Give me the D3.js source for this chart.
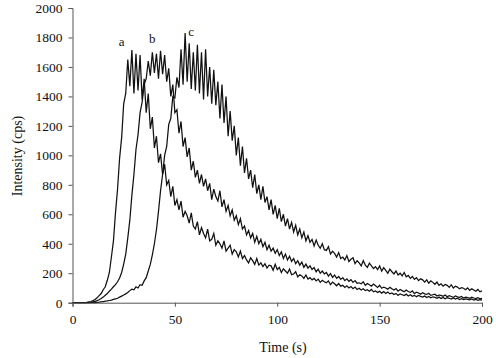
<!DOCTYPE html>
<html><head><meta charset="utf-8">
<script src="https://cdn.jsdelivr.net/npm/d3@7/dist/d3.min.js"></script>
<style>body{margin:0;background:#fff}svg{display:block}</style>
</head><body>
<svg id="chart" width="500" height="358"></svg>
<script>
// Time axis: one reading per second, 0..200 s
const timeStart = 0, timeStep = 1;
const xTicks = [0, 50, 100, 150, 200];
const yTicks = [0, 200, 400, 600, 800, 1000, 1200, 1400, 1600, 1800, 2000];
const curveLabels = ["a", "b", "c"];

const seriesA = [
0,0,0,0,0,0,0,2,
5,8,14,22,33,48,62,88,
108,152,205,310,420,610,770,980,
1120,1350,1420,1650,
1470,1715,1420,1690,1440,1680,1380,1520,
1290,1420,1180,1260,1050,1130,950,1010,
870,940,800,830,720,790,660,700,
630,690,580,620,590,540,610,520,
500,550,460,510,470,440,500,420,
430,470,390,420,400,370,420,350,
370,390,330,360,345,310,350,300,
320,290,270,305,285,260,300,255,
270,245,265,235,255,250,220,260,
225,240,205,230,215,200,228,190,
195,210,175,190,182,165,188,160,
170,155,165,148,160,138,152,142,
135,148,122,140,128,115,130,112,
118,104,115,100,110,95,106,90,
98,86,95,82,88,78,90,74,
80,70,78,65,75,62,72,60,
66,56,63,50,60,54,48,58,
46,54,44,50,41,49,43,38,
45,35,42,33,40,36,30,38,
29,36,27,34,30,25,32,24,
30,22,28,21,26,23,19,25,
18,23,16,21,17];

const seriesB = [
0,0,0,0,0,0,0,0,
0,2,5,9,14,20,28,38,
50,62,78,92,108,122,142,168,
205,262,330,440,
560,730,870,1040,1140,1290,1360,1480,
1520,1640,1540,1700,1560,1690,1520,1710,
1550,1680,1500,1590,1400,1480,1290,1310,
1150,1230,1060,1120,990,1050,900,960,
850,900,810,870,790,840,760,810,
700,770,720,690,760,650,700,620,
660,590,630,560,590,530,570,500,
520,460,490,440,470,410,450,400,
430,380,410,360,390,350,370,335,
360,320,345,300,330,290,315,280,
300,265,285,255,275,240,262,235,
250,225,238,210,228,200,215,195,
205,180,198,172,188,165,178,158,
170,150,162,145,156,138,150,132,
135,128,142,118,130,122,112,126,
115,104,118,98,106,100,92,104,
94,86,96,78,90,82,74,86,
76,70,80,62,72,66,58,68,
60,56,64,50,54,58,46,52,
50,44,52,40,47,42,36,46,
40,36,42,32,38,34,30,38,
32,28,34,26,30];

const seriesC = [
0,0,0,0,0,0,0,0,
0,0,0,1,3,4,6,8,
10,12,15,18,22,26,30,38,
45,52,60,70,
82,92,88,108,100,122,118,148,
170,215,260,325,400,495,620,760,
870,1000,1060,1210,1250,1400,1390,1530,
1460,1720,1480,1830,1500,1760,1450,1700,
1440,1750,1420,1700,1380,1720,1400,1600,
1350,1580,1340,1500,1250,1480,1220,1400,
1130,1300,1100,1200,1000,1120,930,1060,
880,980,840,900,780,870,740,800,
700,790,680,720,630,700,600,660,
570,640,550,600,520,570,500,545,
480,525,460,500,440,480,420,455,
410,430,385,425,390,370,400,360,
355,380,330,350,335,310,340,300,
310,290,320,280,295,305,265,285,
270,250,285,255,240,268,250,232,
245,225,250,215,238,220,200,228,
210,195,215,188,200,182,205,176,
185,165,178,158,170,150,162,155,
140,155,132,148,138,125,140,118,
128,112,124,118,104,122,100,112,
106,94,102,98,88,100,84,94,
86,78,90,74,80];

// label anchor positions in data units (time, intensity)
const labelTimes = [24, 39, 58];
const labelValues = [1740, 1760, 1810];

const svg = d3.select("#chart");
const font = "'Liberation Serif', 'Times New Roman', serif";
const x = d3.scaleLinear().domain([0, 200]).range([72.5, 482]);
const y = d3.scaleLinear().domain([0, 2000]).range([302.7, 8]);

const toPts = arr => arr.map((v, i) => [timeStart + i * timeStep, v]);
const line = d3.line().x(d => x(d[0])).y(d => y(d[1]));

[seriesA, seriesB, seriesC].forEach(s => {
  svg.append("path").datum(toPts(s))
    .attr("d", line).attr("fill", "none")
    .attr("stroke", "#111").attr("stroke-width", 1.25)
    .attr("stroke-linejoin", "miter");
});

const yAxis = svg.append("g").attr("transform", `translate(${x(0)},0)`)
  .call(d3.axisLeft(y).tickValues(yTicks).tickSize(4).tickPadding(6).tickFormat(d3.format("d")));
const xAxis = svg.append("g").attr("transform", `translate(0,${y(0)})`)
  .call(d3.axisBottom(x).tickValues(xTicks).tickSize(4).tickPadding(8).tickFormat(d3.format("d")));
[yAxis, xAxis].forEach(g => {
  g.selectAll("path,line").attr("stroke", "#555").attr("stroke-width", 1);
  g.selectAll("text").attr("font-family", font).attr("font-size", 13.5).attr("fill", "#111");
});

svg.selectAll("text.curve").data(curveLabels).enter().append("text")
  .attr("class", "curve")
  .attr("x", (d, i) => x(labelTimes[i])).attr("y", (d, i) => y(labelValues[i]))
  .attr("text-anchor", "middle")
  .attr("font-family", font).attr("font-size", 13).attr("fill", "#111")
  .text(d => d);

svg.append("text").attr("x", 283).attr("y", 352)
  .attr("text-anchor", "middle").attr("font-family", font).attr("font-size", 14).attr("fill", "#111")
  .text("Time (s)");
svg.append("text").attr("transform", "translate(22,156) rotate(-90)")
  .attr("text-anchor", "middle").attr("font-family", font).attr("font-size", 14).attr("fill", "#111")
  .text("Intensity (cps)");
</script>
</body></html>
